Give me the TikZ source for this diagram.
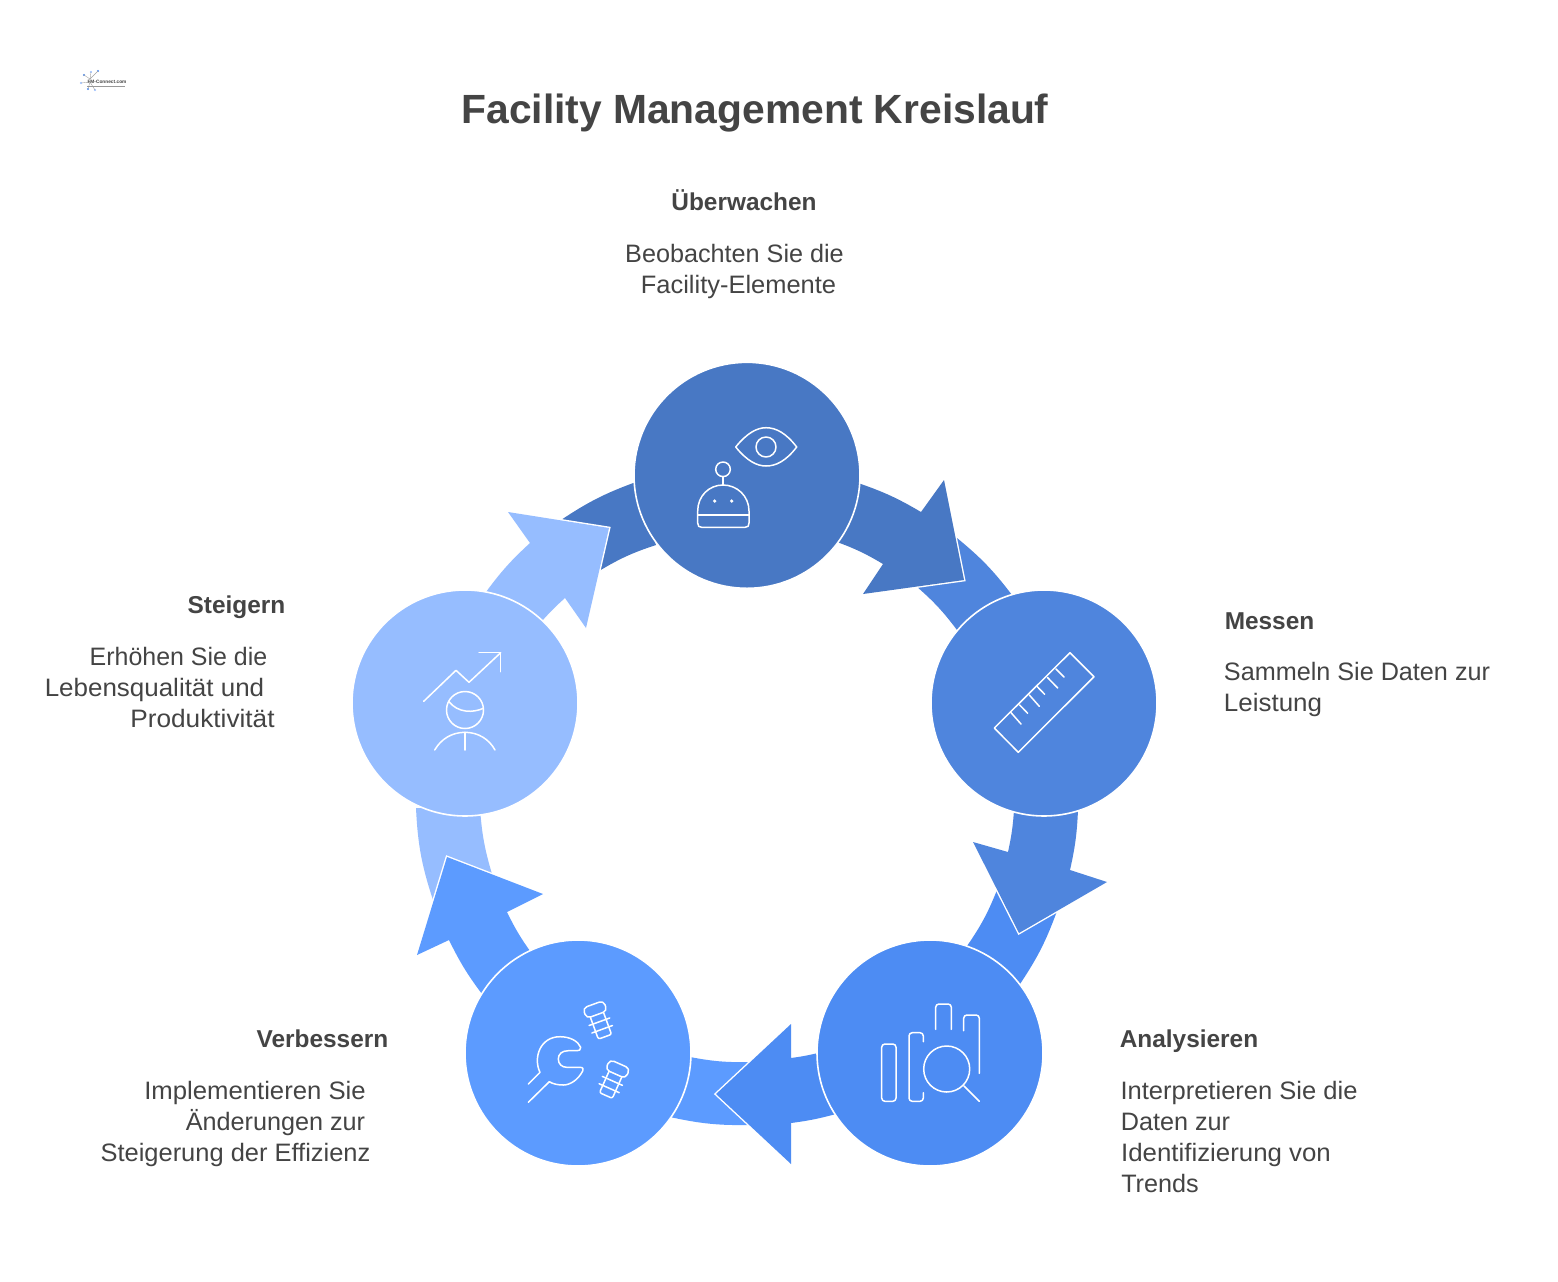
\documentclass[tikz,border=0pt]{standalone}
\usepackage{fontspec}
\setmainfont{Liberation Sans}
\definecolor{cA}{HTML}{4878C4}
\definecolor{cB}{HTML}{4F85DD}
\definecolor{cC}{HTML}{4D8CF3}
\definecolor{cD}{HTML}{5C9BFF}
\definecolor{cE}{HTML}{96BDFF}
\definecolor{ink}{HTML}{444444}
\tikzset{
  disc/.style={circle,draw=white,line width=.8pt,minimum size=113pt,inner sep=0pt,fill=#1},
  head/.style={fill=#1,preaction={draw=white,line width=1.4pt,line join=miter}},
  tail/.style={fill=#1},
  icon/.style={draw=white,line width=.75pt,line cap=round,line join=round},
  titletext/.style={font=\fontsize{20.4pt}{24pt}\selectfont\bfseries,text=ink,anchor=base,inner sep=0pt},
  headtext/.style={font=\fontsize{12.2pt}{15pt}\selectfont\bfseries,text=ink,anchor=base,inner sep=0pt},
  bodytext/.style={font=\fontsize{12.6pt}{15pt}\selectfont,text=ink,anchor=base,inner sep=0pt},
  sx/.style={xscale=#1,transform shape},
}
\newcommand{\boltshape}[2]{%
  \begin{scope}[shift={#1},rotate=#2]
    \draw[icon,rounded corners=2.2pt] (-11,-5.5) rectangle (11,5.5);
    \draw[icon,rounded corners=1pt] (-7,5.5) -- (-7,29) -- (7,29) -- (7,5.5);
    \draw[icon] (-11,13) -- (11,13);
    \draw[icon] (-11,21) -- (11,21);
  \end{scope}}
\begin{document}
\begin{tikzpicture}[x=.5pt,y=-.5pt]
\useasboundingbox[fill=white] (0,0) rectangle (1558,1281);
% tails
\path[tail=cB] (957,538) to[bend left=6.6] (1012,595) -- (957,630) to[bend right=6] (916,586) -- cycle;
\path[tail=cC] (1057,911) to[bend left=6.8] (1020,984) -- (967,946) to[bend right=6.4] (997,890) -- cycle;
\path[tail=cD] (750,1125) to[bend left=6.6] (670,1117) -- (690,1057) to[bend right=6] (750,1062) -- cycle;
\path[tail=cE] (433,900) to[bend left=7.7] (416,808) -- (480,808) to[bend right=6.2] (492,874) -- cycle;
\path[tail=cA] (561,520) to[bend left=6.8] (636,482) -- (656,545) to[bend right=6.4] (599,571) -- cycle;
% arrows
\path[head=cA] (858,483) to[bend left=5.8] (921,512) -- (944,480) -- (964,580) -- (863,594) -- (883,564) to[bend right=5.3] (837,542);
\path[head=cB] (1078,810) to[bend left=5] (1070,870) -- (1107,882) -- (1019,933) -- (973,842) -- (1008,852) to[bend right=4.2] (1014,810);
\path[head=cC] (836,1114) to[bend left=3.8] (791,1123) -- (791,1164) -- (716,1094) -- (791,1024) -- (791,1058) to[bend right=2.7] (818,1053);
\path[head=cD] (482,994) to[bend left=5.3] (449,940) -- (417,955) -- (447,857) -- (543,894) -- (507,912) to[bend right=4.6] (530,951);
\path[head=cE] (486,592) to[bend left=5.5] (530,543) -- (508,512) -- (609,528) -- (586,628) -- (565,598) to[bend right=3.2] (542,621);
% discs
\node[disc=cA] (ueberwachen) at (747,475.3) {};
\node[disc=cB] (messen) at (1044,703) {};
\node[disc=cC] (analysieren) at (930,1053) {};
\node[disc=cD] (verbessern) at (578,1053) {};
\node[disc=cE] (steigern) at (465,703) {};
% eye + robot
\draw[icon] (735.7,447) .. controls (747,433) and (757,427.7) .. (766,427.7) .. controls (776,427.7) and (786,433) .. (796.7,447) .. controls (786,461) and (776,466) .. (766,466) .. controls (757,466) and (747,461) .. (735.7,447) -- cycle;
\draw[icon] (766,447) circle[radius=10];
\draw[icon] (723,469.3) circle[radius=7.3];
\draw[icon] (723,476.6) -- (723,485);
\draw[icon] (697.7,515) -- (697.7,511) .. controls (697.7,496) and (709,485) .. (723,485) .. controls (737,485) and (749,496) .. (749,511) -- (749,523) .. controls (749,526) and (748,527.3) .. (745,527.3) -- (701.7,527.3) .. controls (699,527.3) and (697.7,526) .. (697.7,523) -- cycle;
\draw[icon] (697.7,515) -- (749,515);
\fill[white] (714.7,501) circle[radius=1.8] (731.7,501) circle[radius=1.8];
% ruler
\draw[icon] (1070,652.7) -- (1094,676.7) -- (1018.3,752.3) -- (994.3,728) -- cycle;
\draw[icon] (1010.7,712.3) -- (1021,724) (1019.7,705) -- (1027.7,713.3) (1029.3,695) -- (1039.3,706.3) (1037.3,686.7) -- (1044.7,694.3) (1047.3,677.3) -- (1057.7,688) (1056,669) -- (1064,677);
% analysis
\draw[icon,rounded corners=1.6pt] (881.7,1044) rectangle (896,1101.3);
\draw[icon,rounded corners=1.6pt] (923.3,1041.7) -- (923.3,1032.7) -- (909,1032.7) -- (909,1101.3) -- (923.3,1101.3) -- (923.3,1092.7);
\draw[icon,rounded corners=1.6pt] (935.7,1029.3) -- (935.7,1004) -- (951.3,1004) -- (951.3,1029.3);
\draw[icon,rounded corners=1.6pt] (963.7,1030.7) -- (963.7,1015) -- (979.3,1015) -- (979.3,1073.3);
\draw[icon] (946.7,1069) circle[radius=23];
\draw[icon] (964,1086) -- (979.3,1101.3);
% wrench + bolts
\draw[icon] (528.3,1084) -- (540,1072.3) .. controls (533,1058) and (540,1036.7) .. (560,1036.7) .. controls (570,1036.7) and (578,1041) .. (580.7,1047.3) .. controls (581,1050) and (579,1050.7) .. (577,1050.7) -- (568.3,1050.7) .. controls (562,1050.7) and (558.3,1054) .. (558.3,1059) .. controls (558.3,1064) and (562,1067.3) .. (566.7,1067.3) -- (580,1067.3) .. controls (583,1067.3) and (584,1069) .. (582.7,1071) .. controls (578,1080) and (570,1085) .. (563.3,1085) .. controls (558,1085) and (553,1084) .. (549.3,1081.7) -- (528.3,1102.3);
\boltshape{(595,1009.5)}{20}
\boltshape{(617.7,1069)}{-24}
% person + trend
\draw[icon] (423.7,701.3) -- (456,670.3) -- (469,682.3) -- (500.7,652.7);
\draw[icon] (479,652.7) -- (500.7,652.7) -- (500.7,671.7);
\draw[icon] (465,710) circle[radius=18.5];
\draw[icon] (449,701.7) .. controls (458,713) and (473,713) .. (483.3,708.3);
\draw[icon] (434.7,750) .. controls (441,739) and (452,732.3) .. (465,732.3) .. controls (478,732.3) and (489,739) .. (495,750);
\draw[icon] (465,732.3) -- (465,750);
% logo
\foreach \px/\py/\pc in {84/75/cB,91/72/cE,98/71/cC,81/83/cE,88/89/cC,95/90/cE}
  \fill[\pc] (\px,\py) circle[radius=1.2];
\draw[ink!50,line width=.2pt] (90,79) -- (84,75) (90,79) -- (91,72) (90,79) -- (98,71) (90,82) -- (81,83) (90,82) -- (88,89) (90,82) -- (95,90);
\node[font=\fontsize{2.4pt}{3pt}\selectfont\bfseries,text=ink,anchor=base,inner sep=0pt] (logo) at (107,83) {FM-Connect.com};
\draw[ink!55,line width=.5pt] (87,86.5) -- (125,86.5);
% texts
\node[titletext] (title) at (755,123) {Facility Management Kreislauf};
\node[headtext] (h1) at (744,210) {Überwachen};
\node[bodytext] (b1a) at (734.5,262) {Beobachten Sie die};
\node[bodytext,sx=1.01] (b1b) at (738.5,293) {Facility-Elemente};
\node[headtext] (h2) at (1269.5,629) {Messen};
\node[bodytext] (b2a) at (1357,680) {Sammeln Sie Daten zur};
\node[bodytext,sx=1.03] (b2b) at (1273,711) {Leistung};
\node[headtext] (h3) at (1189,1047) {Analysieren};
\node[bodytext,sx=1.013] (b3a) at (1239,1099) {Interpretieren Sie die};
\node[bodytext] (b3b) at (1175.5,1130) {Daten zur};
\node[bodytext,sx=1.025] (b3c) at (1226,1161) {Identifizierung von};
\node[bodytext] (b3d) at (1160,1192) {Trends};
\node[headtext] (h4) at (322.5,1047) {Verbessern};
\node[bodytext,sx=1.02] (b4a) at (255,1099) {Implementieren Sie};
\node[bodytext] (b4b) at (275.5,1130) {Änderungen zur};
\node[bodytext,sx=1.01] (b4c) at (235.5,1161) {Steigerung der Effizienz};
\node[headtext] (h5) at (236.5,613) {Steigern};
\node[bodytext,sx=.99] (b5a) at (178.5,665) {Erhöhen Sie die};
\node[bodytext,sx=1.03] (b5b) at (154.5,696) {Lebensqualität und};
\node[bodytext,sx=1.04] (b5c) at (202.5,727) {Produktivität};
\end{tikzpicture}
\end{document}
